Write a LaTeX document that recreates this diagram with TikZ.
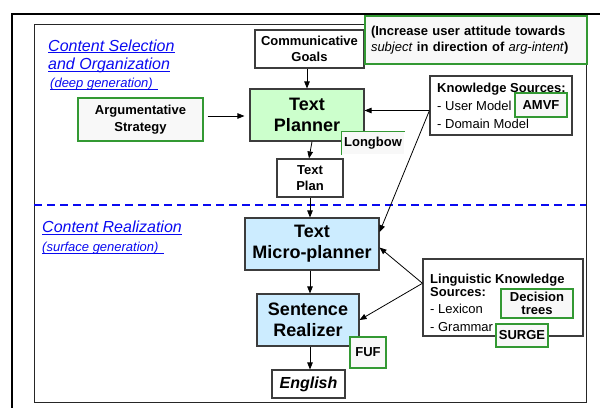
\documentclass[tikz,border=0pt]{standalone}
\usepackage{fontspec}
\setmainfont{Liberation Sans}
\usetikzlibrary{arrows.meta}
\definecolor{edgegray}{RGB}{60,60,60}
\definecolor{taggreen}{RGB}{51,153,51}
\definecolor{tagfill}{RGB}{248,248,248}
\definecolor{plannerfill}{RGB}{204,255,204}
\definecolor{realfill}{RGB}{204,236,255}
\definecolor{headblue}{RGB}{10,10,240}
\tikzset{
  box/.style={draw=edgegray, line width=1.1pt, fill=white, inner sep=0pt, align=center,
    font=\fontsize{13}{16}\selectfont\bfseries},
  tag/.style={box, draw=taggreen, fill=tagfill},
  bigbox/.style={box, font=\fontsize{18}{21}\selectfont\bfseries},
  plain/.style={inner sep=0pt, anchor=base west, font=\fontsize{13}{16}\selectfont},
  head/.style={inner sep=0pt, anchor=base west, text=headblue, font=\fontsize{16}{19}\selectfont\itshape},
  subhead/.style={head, font=\fontsize{13}{16}\selectfont\itshape},
  uline/.style={draw=headblue, line width=0.9pt},
  arr/.style={-{Triangle[length=7pt,width=5.5pt]}, line width=0.8pt, black},
  flow/.style={arr}
}
\begin{document}
\begin{tikzpicture}[x=1pt,y=-1pt]
\useasboundingbox (0,0) rectangle (600,408);

% slide frames
\draw[line width=2pt] (600,14) -- (12,14) -- (12,408);
\draw[line width=0.9pt, black!85] (34,24) rectangle (586,402);

% section headings
\node[head] (h1) at (48,51) {Content Selection};
\node[head] (h2) at (48,69) {and Organization};
\node[subhead] (h3) at (50,87) {(deep generation)};
\node[head] (h4) at (42,232.5) {Content Realization};
\node[subhead] (h5) at (42,251) {(surface generation)};
\draw[uline] ([yshift=-1.6pt]h1.base west) -- ([yshift=-1.6pt]h1.base east);
\draw[uline] ([yshift=-2.4pt]h2.base west) -- ([yshift=-2.4pt]h2.base east);
\draw[uline] ([yshift=-2.8pt]h3.base west) -- ([xshift=5pt,yshift=-2.8pt]h3.base east);
\draw[uline] ([yshift=-2.4pt]h4.base west) -- ([yshift=-2.4pt]h4.base east);
\draw[uline] ([yshift=-2.8pt]h5.base west) -- ([xshift=5pt,yshift=-2.8pt]h5.base east);

% boundary between the two stages
\draw[headblue, line width=2pt, dash pattern=on 8pt off 5pt] (34,205) -- (586,205);

% pipeline
\node[box, minimum width=109pt, minimum height=38pt] (comm) at (309.5,49) {Communicative\\Goals};
\node[tag, minimum width=222pt, minimum height=48pt, text width=210pt, inner xsep=6pt, align=left]
  (goal) at (476,40) {(Increase user attitude towards\\\textit{\mdseries subject} in direction of \textit{\mdseries arg-intent})};
\node[tag, minimum width=125pt, minimum height=43pt, font=\fontsize{13}{17}\selectfont\bfseries]
  (argstrat) at (140.5,119.5) {Argumentative\\Strategy};
\node[bigbox, fill=plannerfill, minimum width=114pt, minimum height=52pt] (planner) at (307,115) {Text\\Planner};
\node[box, minimum width=66pt, minimum height=38pt] (textplan) at (310,178) {Text\\Plan};
\node[bigbox, fill=realfill, minimum width=134pt, minimum height=52pt] (micro) at (312,244) {Text\\Micro-planner};
\node[bigbox, fill=realfill, minimum width=102pt, minimum height=52pt] (sentence) at (308,320) {Sentence\\Realizer};
\node[box, minimum width=73pt, minimum height=28pt, font=\fontsize{16}{19}\selectfont\bfseries\itshape]
  (english) at (308.5,384) {English};

% implementation tags
\node[box, draw=none, fill=tagfill, minimum width=62pt, minimum height=22pt] (longbow) at (373,143) {Longbow};
\draw[taggreen, line width=1.1pt] (longbow.south west) -- (longbow.north west) -- (longbow.north east);

% knowledge sources
\node[box, minimum width=142pt, minimum height=59pt] (ks) at (501,105.5) {};
\node[plain, font=\fontsize{13}{16}\selectfont\bfseries] (kst) at (437,92) {Knowledge Sources:};
\node[plain] (ks1) at (437,110) {- User Model};
\node[plain] (ks2) at (437,128) {- Domain Model};
\node[tag, minimum width=52pt, minimum height=24pt] (amvf) at (541,105) {AMVF};

\node[box, minimum width=160pt, minimum height=77pt] (ling) at (503,297.5) {};
\node[plain, font=\fontsize{13}{16}\selectfont\bfseries] (lt1) at (430,283) {Linguistic Knowledge};
\node[plain, font=\fontsize{13}{16}\selectfont\bfseries] (lt2) at (430,296.5) {Sources:};
\node[plain] (lg1) at (430,313.5) {- Lexicon};
\node[plain] (lg2) at (430,331) {- Grammar};
\node[tag, minimum width=72pt, minimum height=29pt, font=\fontsize{13}{12.5}\selectfont\bfseries]
  (dectrees) at (537,303.5) {Decision\\trees};
\node[tag, minimum width=52pt, minimum height=23pt] (surge) at (522,335.5) {SURGE};
\node[tag, minimum width=36pt, minimum height=31pt] (fuf) at (368,352.5) {FUF};

% flow of the pipeline
\draw[flow] (comm.south -| planner.north) -- (planner.north);
\draw[flow] (planner.south -| textplan.north) ++(2,0) -- ([xshift=-1pt]textplan.north);
\draw[flow] (textplan.south) -- (textplan.south |- micro.north);
\draw[flow] (micro.south -| 310,0) -- (sentence.north -| 310,0);
\draw[flow] (sentence.south -| 310,0) -- (english.north -| 310,0);
\draw[arr, shorten <=4pt, shorten >=5pt] (argstrat.east |- 0,116) -- (planner.west |- 0,116);

% knowledge feeding the planners
\draw[arr] (ks.184) -- (ks.184 -| planner.east);
\draw[arr] (ks.184) -- (micro.10);
\draw[arr] (ling.170) -- (micro.-3);
\draw[arr] (ling.170) -- (sentence.east);
\end{tikzpicture}
\end{document}
